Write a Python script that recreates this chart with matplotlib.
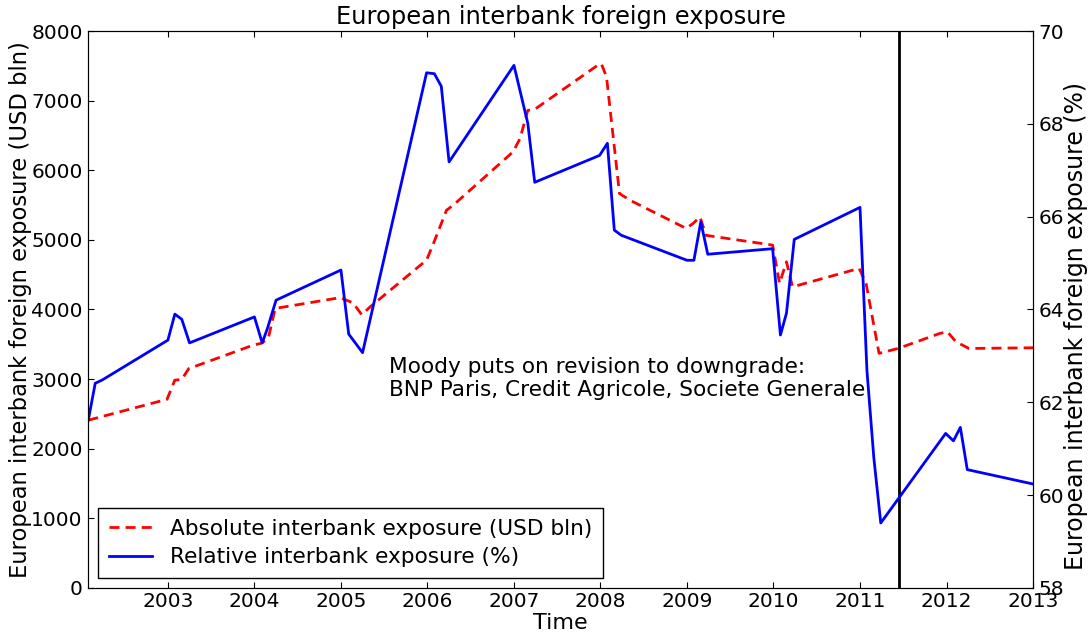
import matplotlib
matplotlib.use("Agg")
import matplotlib.pyplot as plt

# Absolute interbank exposure (USD bln), left axis
abs_t = [2002.08, 2002.99, 2003.08, 2003.16, 2003.24, 2003.99, 2004.08, 2004.16,
         2004.24, 2004.99, 2005.14, 2005.24, 2005.34, 2005.99, 2006.07, 2006.22,
         2006.30, 2006.99, 2007.07, 2007.16, 2007.24, 2007.97, 2008.01, 2008.07,
         2008.22, 2008.34, 2008.99, 2009.07, 2009.15, 2009.22, 2009.99, 2010.07,
         2010.15, 2010.22, 2010.99, 2011.07, 2011.22, 2011.44, 2011.92, 2012.01,
         2012.11, 2012.26, 2013.00]
abs_v = [2410, 2710, 2985, 2995, 3150, 3490, 3515, 3585,
         4015, 4170, 4095, 3925, 4040, 4710, 4950, 5425,
         5500, 6265, 6455, 6860, 6875, 7510, 7530, 7340,
         5665, 5570, 5165, 5235, 5330, 5065, 4925, 4375,
         4685, 4325, 4590, 4375, 3370, 3440, 3655, 3680,
         3535, 3440, 3450]

# Relative interbank exposure (%), right axis
rel_t = [2002.08, 2002.16, 2002.24, 2003.00, 2003.08, 2003.16, 2003.25, 2004.00,
         2004.09, 2004.15, 2004.25, 2005.00, 2005.09, 2005.25, 2005.99, 2006.08,
         2006.16, 2006.25, 2007.00, 2007.16, 2007.24, 2007.99, 2008.08, 2008.16,
         2008.24, 2009.00, 2009.08, 2009.16, 2009.24, 2009.99, 2010.08, 2010.15,
         2010.24, 2011.00, 2011.08, 2011.16, 2011.24, 2011.99, 2012.08, 2012.16,
         2012.24, 2013.00]
rel_v = [61.62, 62.41, 62.48, 63.34, 63.90, 63.79, 63.28, 63.84,
         63.28, 63.59, 64.20, 64.85, 63.47, 63.07, 69.10, 69.08,
         68.81, 67.18, 69.26, 68.01, 66.74, 67.32, 67.58, 65.71,
         65.60, 65.06, 65.06, 65.89, 65.19, 65.31, 63.45, 63.92,
         65.51, 66.20, 62.69, 60.80, 59.40, 61.33, 61.17, 61.46,
         60.55, 60.24]

event_t = 2011.45
event_text = "Moody puts on revision to downgrade:\nBNP Paris, Credit Agricole, Societe Generale"
years = list(range(2003, 2014))

plt.rcParams['font.family'] = 'DejaVu Sans'
plt.rcParams['xtick.direction'] = 'in'
plt.rcParams['ytick.direction'] = 'in'
plt.rcParams['xtick.major.size'] = 4
plt.rcParams['ytick.major.size'] = 4
plt.rcParams['xtick.major.pad'] = 3
plt.rcParams['ytick.major.pad'] = 4
plt.rcParams['xtick.labelsize'] = 14.5
plt.rcParams['ytick.labelsize'] = 14.5

fig = plt.figure(figsize=(10.89, 6.34), dpi=100)
ax1 = fig.add_axes([0.0811, 0.0726, 0.8675, 0.8785])
ax2 = ax1.twinx()

l1, = ax1.plot(abs_t, abs_v, color='red', lw=2, dashes=(3.6, 2.2),
               label='Absolute interbank exposure (USD bln)')
l2, = ax2.plot(rel_t, rel_v, color='blue', lw=2,
               label='Relative interbank exposure (%)')
ax1.axvline(event_t, color='black', lw=2)
ax1.text(2005.56, 2700, event_text, fontsize=15.6, va='bottom', ha='left')

ax1.set_xlim(2002.08, 2013.0)
ax1.set_ylim(0, 8000)
ax2.set_ylim(58, 70)
ax1.set_xticks(years)
ax1.set_xticklabels([str(y) for y in years])
ax1.tick_params(axis='x', top=True)
ax1.set_xlabel('Time', fontsize=16, labelpad=1.5)
ax1.set_ylabel('European interbank foreign exposure (USD bln)', fontsize=16.3)
ax1.yaxis.set_label_coords(-0.06, 0.5)
ax2.set_ylabel('European interbank foreign exposure (%)', fontsize=17)
ax2.yaxis.set_label_coords(1.033, 0.47)
ax1.set_title('European interbank foreign exposure', fontsize=17.4, pad=5)

leg = ax1.legend([l1, l2], [l1.get_label(), l2.get_label()], loc='lower left',
                 fontsize=15.6, fancybox=False, framealpha=1, edgecolor='black',
                 borderaxespad=0.45, handlelength=2, labelspacing=0.4,
                 borderpad=0.5)
leg.get_frame().set_linewidth(1)

fig.savefig('out.png', dpi=100)
